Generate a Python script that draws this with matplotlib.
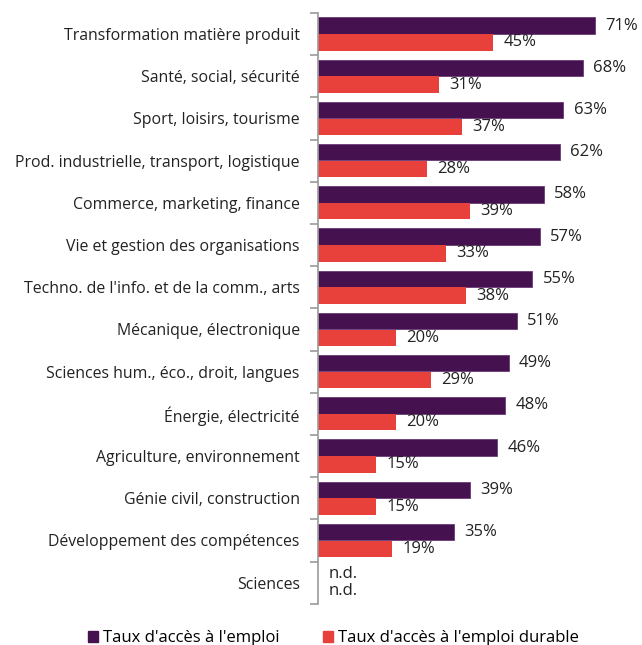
import numpy as np
import matplotlib.pyplot as plt
from matplotlib.patches import Patch

plt.rcParams['font.family'] = ['Open Sans', 'DejaVu Sans']

categories = ["Transformation matière produit", "Santé, social, sécurité",
              "Sport, loisirs, tourisme", "Prod. industrielle, transport, logistique",
              "Commerce, marketing, finance", "Vie et gestion des organisations",
              "Techno. de l'info. et de la comm., arts", "Mécanique, électronique",
              "Sciences hum., éco., droit, langues", "Énergie, électricité",
              "Agriculture, environnement", "Génie civil, construction",
              "Développement des compétences", "Sciences"]
emploi = [71, 68, 63, 62, 58, 57, 55, 51, 49, 48, 46, 39, 35, np.nan]
durable = [45, 31, 37, 28, 39, 33, 38, 20, 29, 20, 15, 15, 19, np.nan]

purple = '#46114f'
red = '#e8403a'

fig = plt.figure(figsize=(6.42, 6.45), dpi=100)
ax = fig.add_axes([0.495, 0.064, 0.486, 0.916])

y = np.arange(len(categories))
h = 0.39
ax.barh(y - 0.2, emploi, height=h, color=purple, edgecolor='#6a3a78', linewidth=0.6)
ax.barh(y + 0.2, durable, height=h, color=red)

for i in range(len(categories)):
    for val, off in ((emploi[i], -0.2), (durable[i], 0.2)):
        if np.isnan(val):
            ax.text(2.8, y[i] + off, 'n.d.', va='center', ha='left', fontsize=12, color='#222222')
        else:
            ax.text(val + 2.6, y[i] + off, f'{val:.0f}%', va='center', ha='left',
                    fontsize=12, color='#222222')

ax.set_xlim(0, 80)
ax.set_ylim(len(categories) - 0.5, -0.5)
ax.set_yticks(y)
ax.set_yticklabels(categories, fontsize=11.4, color='#222222')
ax.set_yticks(np.arange(-0.5, len(categories), 1), minor=True)
ax.tick_params(axis='y', which='major', length=0, pad=13)
ax.tick_params(axis='y', which='minor', length=6, color='#999999', width=1.2)
ax.set_xticks([])
for s in ['top', 'right', 'bottom']:
    ax.spines[s].set_visible(False)
ax.spines['left'].set_color('#999999')
ax.spines['left'].set_linewidth(1.2)

handles = [Patch(color=purple, label="Taux d'accès à l'emploi"),
           Patch(color=red, label="Taux d'accès à l'emploi durable")]
fig.legend(handles=handles, loc='lower center', bbox_to_anchor=(0.52, -0.025), ncol=2,
           frameon=False, fontsize=12, handlelength=0.6, handleheight=0.6,
           handletextpad=0.3, columnspacing=2.6)

plt.savefig('out.png')
